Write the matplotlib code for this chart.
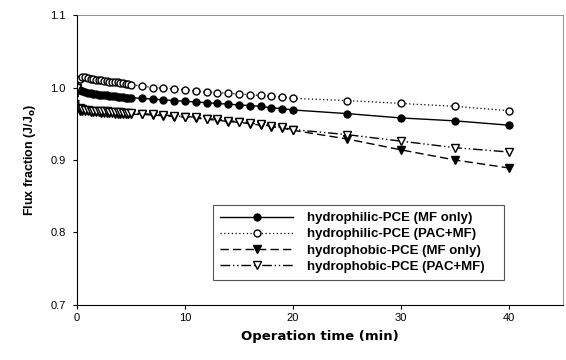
import matplotlib
matplotlib.use("Agg")
import matplotlib.pyplot as plt

# ----------------------------
# Data
# ----------------------------
time = [0, 0.25, 0.5, 0.75, 1.0, 1.25, 1.5, 1.75, 2.0, 2.25, 2.5, 2.75, 3.0,
        3.25, 3.5, 3.75, 4.0, 4.25, 4.5, 4.75, 5.0,
        6, 7, 8, 9, 10, 11, 12, 13, 14, 15, 16, 17, 18, 19, 20,
        25, 30, 35, 40]

philic_mf = [1.000, 0.997, 0.995, 0.994, 0.993, 0.992, 0.991, 0.991, 0.990, 0.990, 0.989,
             0.989, 0.988, 0.988, 0.988, 0.987, 0.987, 0.987, 0.986, 0.986, 0.986,
             0.985, 0.984, 0.983, 0.982, 0.981, 0.980, 0.979, 0.978, 0.977, 0.976,
             0.975, 0.974, 0.972, 0.971, 0.969,
             0.964, 0.958, 0.954, 0.948]

philic_pac = [1.000, 1.012, 1.015, 1.014, 1.013, 1.012, 1.012, 1.011, 1.010, 1.010, 1.009,
              1.009, 1.008, 1.008, 1.007, 1.007, 1.006, 1.006, 1.005, 1.005, 1.004,
              1.002, 1.000, 0.999, 0.998, 0.997, 0.995, 0.994, 0.993, 0.992, 0.991,
              0.990, 0.989, 0.988, 0.987, 0.985,
              0.982, 0.978, 0.974, 0.968]

phobic_mf = [1.000, 0.968, 0.967, 0.967, 0.967, 0.966, 0.966, 0.966, 0.966, 0.965, 0.965,
             0.965, 0.965, 0.965, 0.964, 0.964, 0.964, 0.964, 0.964, 0.964, 0.963,
             0.963, 0.962, 0.961, 0.960, 0.959, 0.958, 0.956, 0.955, 0.953, 0.952,
             0.950, 0.948, 0.946, 0.944, 0.941,
             0.929, 0.914, 0.900, 0.889]

phobic_pac = [1.000, 0.972, 0.970, 0.969, 0.969, 0.968, 0.968, 0.968, 0.967, 0.967, 0.967,
              0.967, 0.966, 0.966, 0.966, 0.966, 0.966, 0.965, 0.965, 0.965, 0.965,
              0.964, 0.963, 0.962, 0.961, 0.960, 0.959, 0.957, 0.956, 0.954, 0.953,
              0.951, 0.949, 0.947, 0.945, 0.942,
              0.935, 0.926, 0.917, 0.911]

labels = ["hydrophilic-PCE (MF only)", "hydrophilic-PCE (PAC+MF)",
          "hydrophobic-PCE (MF only)", "hydrophobic-PCE (PAC+MF)"]

# ----------------------------
# Plot
# ----------------------------
plt.rcParams['font.family'] = ['Liberation Sans', 'DejaVu Sans']

fig = plt.figure(figsize=(5.66, 3.60), dpi=100)
ax = fig.add_axes([77 / 566, 55 / 360, 486 / 566, 290 / 360])

ms = 5.0
ax.plot(time, philic_mf, color='black', lw=1.0, ls='-', marker='o',
        ms=ms, mfc='black', mec='black', label=labels[0])
ax.plot(time, philic_pac, color='black', lw=0.9, ls=(0, (1, 2)), marker='o',
        ms=ms, mfc='white', mec='black', mew=1.0, label=labels[1])
ax.plot(time, phobic_mf, color='black', lw=1.0, ls=(0, (6, 3)), marker='v',
        ms=ms + 0.5, mfc='black', mec='black', label=labels[2])
ax.plot(time, phobic_pac, color='black', lw=1.0, ls=(0, (7, 2, 1, 2, 1, 2)), marker='v',
        ms=ms + 0.5, mfc='white', mec='black', mew=1.0, label=labels[3])

ax.set_xlim(0, 45)
ax.set_ylim(0.7, 1.1)
ax.set_xticks([0, 10, 20, 30, 40])
ax.set_yticks([0.7, 0.8, 0.9, 1.0, 1.1])
ax.set_yticklabels(["0.7", "0.8", "0.9", "1.0", "1.1"])
ax.tick_params(direction='out', length=3, width=0.8, labelsize=8, pad=3)
ax.tick_params(axis='y', pad=5)

for sp in ax.spines.values():
    sp.set_linewidth(0.8)
for sp in ['top', 'right']:
    ax.spines[sp].set_linewidth(0.5)
    ax.spines[sp].set_color('#666666')

ax.set_xlabel("Operation time (min)", fontsize=9.5, fontweight='bold', labelpad=5,
              family='DejaVu Sans')
ax.set_ylabel("Flux fraction (J/J$_\\mathbf{o}$)", fontsize=9, fontweight='bold', labelpad=9)

leg = ax.legend(loc='lower left', bbox_to_anchor=(0.28, 0.086, 0.599, 0.266), mode='expand',
                borderaxespad=0, handlelength=5.5, handletextpad=1.1, labelspacing=0.3,
                borderpad=0.55, fancybox=False, framealpha=1, edgecolor='#555555',
                prop={'weight': 'bold', 'size': 9.5})
leg.get_frame().set_linewidth(0.8)

plt.savefig("out.png", dpi=100)
plt.close()
